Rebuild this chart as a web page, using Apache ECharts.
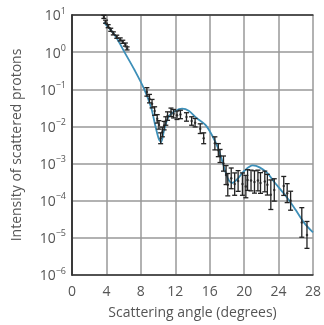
<!DOCTYPE html>
<html><head><meta charset="utf-8">
<script src="https://cdn.jsdelivr.net/npm/echarts@6/dist/echarts.min.js"></script>
<style>html,body{margin:0;padding:0;background:#fff}#c{width:324px;height:325px}</style>
</head><body><div id="c"></div>
<script>
// Measured data points (scattering angle in degrees, intensity, multiplicative error)
const angles = [3.7,3.9,4.2,4.5,4.8,5.2,5.6,5.9,6.2,6.4,
  8.7,9.0,9.3,9.6,9.9,10.1,10.3,10.5,10.7,10.9,11.1,11.5,11.8,12.2,12.6,13.3,13.9,14.3,14.9,15.3,
  16.6,17.0,17.2,17.6,17.9,18.1,18.5,18.9,19.3,19.8,20.2,20.4,20.8,21.2,21.6,21.9,22.4,22.7,23.1,23.5,24.6,25.0,25.4,26.7,27.3];
const intensity = [8.9,6.6,5.0,4.0,3.2,2.6,2.2,1.9,1.6,1.26,
  8.5e-2,5.6e-2,4.1e-2,2.6e-2,1.6e-2,1.1e-2,4.8e-3,7.1e-3,1.05e-2,1.4e-2,1.9e-2,2.4e-2,2.2e-2,2.0e-2,2.1e-2,1.8e-2,1.4e-2,1.26e-2,8.7e-3,4.8e-3,
  3.5e-3,2.3e-3,1.6e-3,1.0e-3,4.9e-4,2.7e-4,4.0e-4,2.8e-4,3.4e-4,2.8e-4,2.4e-4,3.6e-4,3.5e-4,3.2e-4,3.5e-4,3.0e-4,3.3e-4,2.7e-4,1.45e-4,1.95e-4,2.5e-4,1.6e-4,1.0e-4,2.6e-5,1.2e-5];
const errFactor = [1.1,1.1,1.1,1.1,1.1,1.1,1.1,1.1,1.1,1.1,
  1.3,1.3,1.3,1.3,1.3,1.3,1.4,1.35,1.3,1.3,1.3,1.3,1.3,1.3,1.3,1.3,1.3,1.3,1.35,1.4,
  1.5,1.5,1.5,1.6,1.8,2.0,1.9,2.0,1.9,2.0,2.0,1.9,1.9,2.0,1.9,1.9,1.9,1.9,2.5,2.0,1.8,1.8,1.8,2.5,2.3];
// Theoretical fit curve
const curveAngles = [3.7,5.0,6.1,7.3,8.4,9.2,9.7,10.1,10.35,10.7,11.2,12.0,12.8,13.6,14.5,15.5,16.3,17.0,17.6,18.1,18.6,19.2,20.0,21.0,21.8,22.7,23.5,25.0,26.0,27.0,28.0];
const curveValues = [6.3,2.8,1.0,0.32,0.1,3.2e-2,1.0e-2,4.5e-3,3.8e-3,7.9e-3,1.8e-2,2.6e-2,3.0e-2,2.6e-2,1.66e-2,1.1e-2,5.6e-3,2.5e-3,8.9e-4,4.0e-4,3.0e-4,3.8e-4,6.3e-4,8.9e-4,7.9e-4,5.5e-4,3.2e-4,1.2e-4,5.6e-5,2.5e-5,1.4e-5];
const xTicks = [0,4,8,12,16,20,24,28];

const font = '"Open Sans", "Noto Sans", sans-serif';
const txt = '#555';
const errData = angles.map((a,i)=>[a, intensity[i]/errFactor[i], intensity[i]*errFactor[i]]);
const sup = {'-1':'\u22121','-2':'\u22122','-3':'\u22123','-4':'\u22124','-5':'\u22125','-6':'\u22126','0':'0','1':'1'};
const frameLine = {show:true,lineStyle:{color:'#333',width:1.5}};

const chart = echarts.init(document.getElementById('c'));
chart.setOption({
  animation:false,
  grid:{left:72,right:8,top:15,bottom:46,show:false},
  xAxis:[{type:'value',min:xTicks[0],max:xTicks[xTicks.length-1],interval:4,
    name:'Scattering angle (degrees)',nameLocation:'middle',nameGap:31,
    nameTextStyle:{fontFamily:font,fontSize:14,color:txt},
    axisLine:frameLine,axisTick:{show:false},
    axisLabel:{fontFamily:font,fontSize:14,color:txt,margin:10},
    splitLine:{show:true,lineStyle:{color:'#999',width:1.5}}},
    {type:'value',position:'top',min:xTicks[0],max:xTicks[xTicks.length-1],axisLine:frameLine,axisTick:{show:false},axisLabel:{show:false},splitLine:{show:false}}],
  yAxis:[{type:'log',logBase:10,min:1e-6,max:10,
    name:'Intensity of scattered protons',nameLocation:'middle',nameGap:48,
    nameTextStyle:{fontFamily:font,fontSize:14,color:txt},
    axisLine:frameLine,axisTick:{show:false},
    axisLabel:{margin:6,formatter:function(v){const e=Math.round(Math.log10(v));return '{b|10}{s|'+(sup[String(e)]||e)+'}';},
      rich:{b:{fontFamily:font,fontSize:14,color:txt,verticalAlign:'bottom'},s:{fontFamily:font,fontSize:9,color:txt,verticalAlign:'top',padding:[0,0,8,0]}}},
    splitLine:{show:true,lineStyle:{color:'#999',width:1.5}}},
    {type:'log',logBase:10,position:'right',min:1e-6,max:10,axisLine:frameLine,axisTick:{show:false},axisLabel:{show:false},splitLine:{show:false}}],
  series:[
    {type:'line',data:curveAngles.map((a,i)=>[a,curveValues[i]]),smooth:0.3,showSymbol:false,
      lineStyle:{color:'#3d8fb8',width:1.8},z:2},
    {type:'custom',z:3,data:errData,encode:{x:0,y:[1,2]},
      renderItem:function(params,api){
        const x=api.value(0);
        const lo=api.coord([x,api.value(1)]);
        const hi=api.coord([x,api.value(2)]);
        const w=2.5;
        return {type:'group',children:[
          {type:'line',shape:{x1:lo[0],y1:lo[1],x2:hi[0],y2:hi[1]},style:{stroke:'#222',lineWidth:1.3}},
          {type:'line',shape:{x1:lo[0]-w,y1:lo[1],x2:lo[0]+w,y2:lo[1]},style:{stroke:'#222',lineWidth:1.3}},
          {type:'line',shape:{x1:hi[0]-w,y1:hi[1],x2:hi[0]+w,y2:hi[1]},style:{stroke:'#222',lineWidth:1.3}}
        ]};
      }},
    {type:'scatter',data:angles.map((a,i)=>[a,intensity[i]]),symbolSize:2.5,itemStyle:{color:'#222'},z:4}
  ]
});
</script></body></html>
